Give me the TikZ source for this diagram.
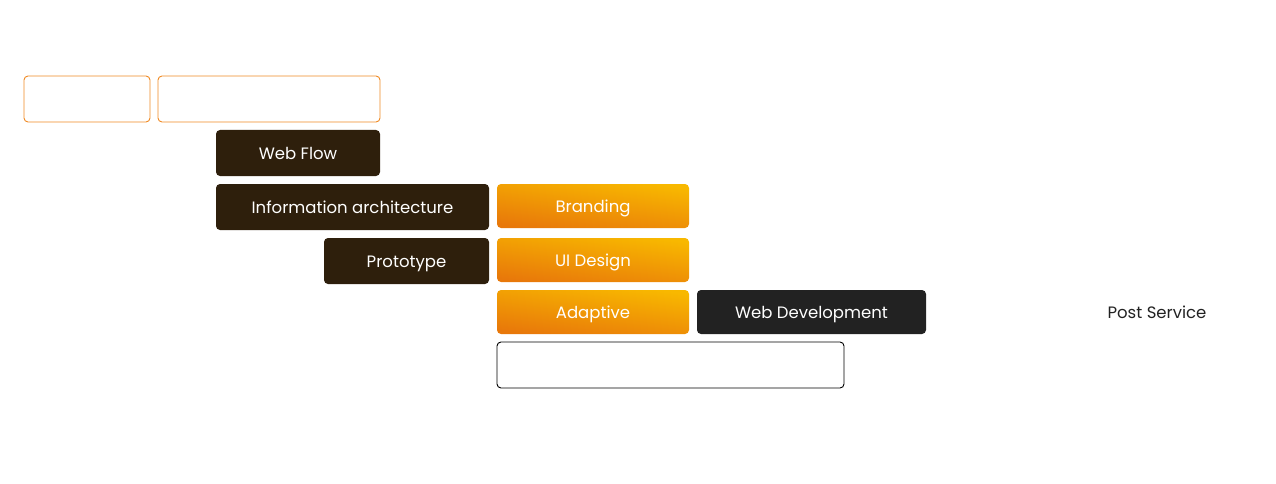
\documentclass[tikz,border=0pt]{standalone}
\usepackage{fontspec}
\setmainfont{Poppins}
\usetikzlibrary{shapes}

\definecolor{brownbox}{HTML}{2E1F0C}
\definecolor{darkbox}{HTML}{222222}
\definecolor{orangeline}{HTML}{F08A24}
\definecolor{goldtop}{HTML}{F8B800}
\definecolor{orangebot}{HTML}{E8780A}

\tikzset{
  stagebox/.style={rectangle,rounded corners=4pt,inner sep=0pt,
    font=\fontsize{16.5}{19}\selectfont,text=white,text height=13pt,text depth=0pt},
  brownstage/.style={stagebox,fill=brownbox},
  darkstage/.style={stagebox,fill=darkbox},
  goldstage/.style={stagebox,shading=axis,top color=goldtop,bottom color=orangebot,shading angle=-8},
  emptystage/.style={stagebox,draw=orangeline,line width=0.9pt,fill=white},
  openstage/.style={stagebox,draw=black,line width=0.9pt,fill=white}
}

\begin{document}
\begin{tikzpicture}[x=1pt,y=-1pt]
  \useasboundingbox (0,0) rectangle (1276,484);

  \node[emptystage,minimum width=126pt,minimum height=46pt] (plan) at (87,99) {};
  \node[emptystage,minimum width=222pt,minimum height=46pt] (research) at (269,99) {};
  \node[brownstage,minimum width=164pt,minimum height=46pt] (flow) at (298,153) {Web Flow};
  \node[brownstage,minimum width=273pt,minimum height=46pt] (arch) at (352.5,207) {Information architecture};
  \node[brownstage,minimum width=165pt,minimum height=46pt] (proto) at (406.5,261) {Prototype};
  \node[goldstage,minimum width=192pt,minimum height=44pt] (brand) at (593,206) {Branding};
  \node[goldstage,minimum width=192pt,minimum height=44pt] (ui) at (593,260) {UI Design};
  \node[goldstage,minimum width=192pt,minimum height=44pt] (adapt) at (593,312) {Adaptive};
  \node[darkstage,minimum width=229pt,minimum height=44pt] (dev) at (811.5,312) {Web Development};
  \node[openstage,minimum width=347pt,minimum height=46pt] (test) at (670.5,365) {};
  \node[font=\fontsize{16.5}{19}\selectfont,text=darkbox,text height=13pt,text depth=0pt] (post) at (1157,312) {Post Service};
\end{tikzpicture}
\end{document}
